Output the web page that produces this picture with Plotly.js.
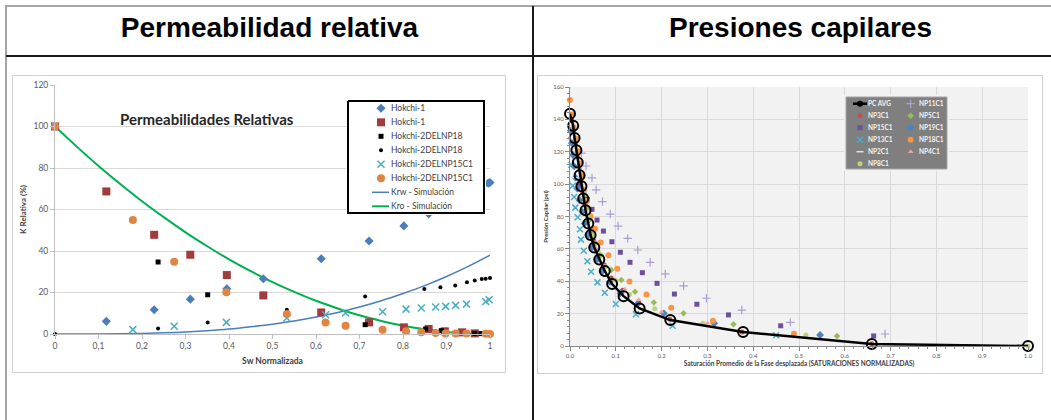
<!DOCTYPE html>
<html><head><meta charset="utf-8">
<script src="https://cdn.plot.ly/plotly-3.0.1.min.js"></script>
<style>
body{margin:0;background:#fff;width:1051px;height:420px;overflow:hidden;position:relative;font-family:"Liberation Sans",Arial,sans-serif}
.ln{position:absolute}
.hdr{position:absolute;top:10px;height:36px;line-height:36px;text-align:center;font-weight:bold;font-size:28px;color:#000;white-space:nowrap}
.box{position:absolute;border:1px solid #d0d0d0;pointer-events:none;box-sizing:border-box}
#c1{position:absolute;left:12px;top:75px;width:494px;height:298px}
#c2{position:absolute;left:537px;top:75px;width:506px;height:299px}
</style></head><body>
<div class="ln" style="left:5px;top:5px;width:1046px;height:2px;background:#a6a6a6"></div>
<div class="ln" style="left:5px;top:5px;width:2px;height:415px;background:#a6a6a6"></div>
<div class="ln" style="left:6px;top:55px;width:1045px;height:2px;background:#1a1a1a"></div>
<div class="ln" style="left:532px;top:6px;width:2px;height:414px;background:#1a1a1a"></div>
<div class="hdr" style="left:7px;width:525px">Permeabilidad relativa</div>
<div class="hdr" style="left:534px;width:533px">Presiones capilares</div>
<div id="c1"></div><div id="c2"></div>
<div class="box" style="left:12px;top:75px;width:494px;height:298px"></div>
<div class="box" style="left:537px;top:75px;width:506px;height:299px"></div>
<script>
// ================= DATA: Permeabilidades Relativas =================
const hk1DiamSw = [0.118, 0.228, 0.311, 0.395, 0.479, 0.612, 0.722, 0.802, 0.859, 0.985, 0.996, 1.0];
const hk1DiamKr = [6.1, 11.7, 16.8, 21.8, 26.6, 36.3, 44.8, 52.1, 57.9, 71.9, 72.7, 73.0];
const hk1SqSw = [0, 0.118, 0.228, 0.311, 0.395, 0.479, 0.612, 0.722, 0.802, 0.859, 0.896, 0.936, 0.965];
const hk1SqKr = [100, 68.7, 47.8, 38.2, 28.4, 18.6, 10.4, 5.6, 3.2, 2.4, 1.3, 0.8, 0.3];
const np18SqSw = [0.237, 0.351, 0.713, 0.852, 0.888, 0.965, 0.979];
const np18SqKr = [34.7, 18.9, 4.5, 2.4, 1.6, 0.3, 0.2];
const np18DotSw = [0, 0.237, 0.351, 0.533, 0.713, 0.849, 0.886, 0.920, 0.947, 0.965, 0.981, 0.990, 1.0];
const np18DotKr = [0, 2.7, 5.6, 11.7, 18.1, 21.7, 22.5, 23.4, 24.9, 25.8, 26.5, 26.6, 27.0];
const np15XSw = [0.179, 0.274, 0.394, 0.533, 0.622, 0.668, 0.753, 0.807, 0.842, 0.875, 0.898, 0.921, 0.946, 0.990, 0.998];
const np15XKr = [2.1, 3.7, 5.6, 7.7, 9.3, 10.1, 10.7, 12.0, 12.5, 13.0, 13.3, 13.8, 14.4, 15.7, 16.5];
const np15CirSw = [0, 0.179, 0.274, 0.394, 0.533, 0.622, 0.668, 0.753, 0.807, 0.842, 0.875, 0.898, 0.921, 0.946, 0.990, 1.0];
const np15CirKr = [100, 54.9, 34.8, 20.1, 9.6, 5.6, 4.0, 2.1, 1.3, 0.8, 0.5, 0.3, 0.2, 0.2, 0.1, 0];
const simSw = [0, 0.05, 0.1, 0.15, 0.2, 0.25, 0.3, 0.35, 0.4, 0.45, 0.5, 0.55, 0.6, 0.65, 0.7, 0.75, 0.8, 0.85, 0.9, 0.95, 1.0];
const krwSim = [0, 0.005, 0.04, 0.13, 0.3, 0.6, 1.0, 1.6, 2.4, 3.5, 4.75, 6.3, 8.2, 10.4, 13.0, 16.0, 19.5, 23.3, 27.7, 32.6, 38.0];
const kroSim = [100, 90.3, 81, 72.3, 64, 56.3, 49, 42.3, 36, 30.3, 25, 20.3, 16, 12.3, 9, 6.3, 4, 2.3, 1, 0.3, 0];
const leftNames = ['Hokchi-1', 'Hokchi-1', 'Hokchi-2DELNP18', 'Hokchi-2DELNP18', 'Hokchi-2DELNP15C1', 'Hokchi-2DELNP15C1', 'Krw - Simulación', 'Kro - Simulación'];
const xTicksLeft = [0, 0.1, 0.2, 0.3, 0.4, 0.5, 0.6, 0.7, 0.8, 0.9, 1];
const yTicksLeft = [0, 20, 40, 60, 80, 100, 120];

// ================= DATA: Presiones capilares =================
const avgS = [0.000, 0.007, 0.010, 0.014, 0.017, 0.021, 0.025, 0.029, 0.034, 0.040, 0.045, 0.053, 0.064, 0.076, 0.092, 0.117, 0.152, 0.219, 0.378, 0.659, 1.000];
const avgP = [143.5, 136, 128.5, 121, 113.3, 105.5, 98.7, 91.1, 83.9, 75.7, 68.5, 60.9, 53.5, 46.3, 38.3, 30.8, 23.2, 16.0, 8.6, 1.2, 0.0];
const np11S = [0.025, 0.035, 0.048, 0.057, 0.071, 0.088, 0.105, 0.126, 0.148, 0.175, 0.208, 0.248, 0.298, 0.375, 0.481, 0.688];
const np11P = [119.2, 111.2, 103.8, 96.5, 89.2, 81.5, 74.1, 66.5, 59.3, 51.7, 44.5, 37.1, 29.5, 22.2, 14.6, 7.4];
const np3S = [0.003, 0.008, 0.012, 0.016, 0.020, 0.024, 0.028, 0.033, 0.039, 0.045, 0.052, 0.062, 0.075, 0.090, 0.115, 0.150, 0.218, 0.376, 0.659];
const np3P = [140, 133, 125, 117, 110, 102, 95, 87.5, 80, 72, 65, 57, 50, 42, 34.5, 27, 16.5, 8.6, 1.4];
const np5S = [0.023, 0.031, 0.037, 0.042, 0.049, 0.056, 0.067, 0.090, 0.112, 0.142, 0.183, 0.248, 0.357, 0.583];
const np5P = [99.3, 92.1, 85, 77.7, 70.5, 63.3, 56.1, 46.9, 40.7, 33.5, 26.9, 20.2, 13.4, 6.2];
const np15S = [0.020, 0.030, 0.038, 0.048, 0.059, 0.073, 0.0915, 0.110, 0.131, 0.158, 0.190, 0.228, 0.277, 0.346, 0.460, 0.663];
const np15P = [100, 95, 90.5, 84.4, 77.8, 71, 64.4, 57.9, 51.7, 45.3, 38.7, 32.1, 25.8, 19.2, 12.5, 6.2];
const np19S = [0.0015, 0.004, 0.0066, 0.009, 0.012, 0.016, 0.021, 0.027, 0.032, 0.040, 0.048, 0.059, 0.071, 0.087, 0.110, 0.147, 0.205, 0.315, 0.546];
const np19P = [133, 125.4, 118, 111, 104, 97.3, 90, 82.9, 75.7, 68.5, 60.9, 53.5, 46.3, 39.7, 32.5, 25.9, 20.2, 14, 6.8];
const np13S = [0.003, 0.006, 0.009, 0.0116, 0.0167, 0.0218, 0.024, 0.030, 0.038, 0.046, 0.060, 0.076, 0.100, 0.144, 0.224, 0.450];
const np13P = [112, 99, 92, 85.5, 79.5, 72.1, 65.7, 58.9, 52.3, 45.9, 39.3, 32.9, 26, 19.6, 12.5, 6.6];
const np18S = [0.000, 0.004, 0.008, 0.013, 0.017, 0.022, 0.026, 0.030, 0.037, 0.045, 0.055, 0.067, 0.084, 0.103, 0.130, 0.167, 0.221, 0.312, 0.489];
const np18P = [152, 143, 135, 128, 120.5, 112.7, 105.5, 96.5, 89.5, 80.2, 72.4, 64, 56, 47.7, 39.9, 31.8, 23.7, 15.6, 7.6];
const np2S = [0.002, 0.006, 0.012];
const np2P = [138, 122, 104];
const np4S = [0.035, 0.045, 0.058, 0.072, 0.095, 0.120, 0.150, 0.200, 0.300];
const np4P = [84, 72, 60, 50, 41, 35, 28.5, 21, 14];
const np8S = [0.020, 0.030, 0.040, 0.050, 0.062, 0.078, 0.100, 0.130, 0.185, 0.290, 0.515, 1.000];
const np8P = [110, 94, 80, 68, 58, 49, 40.5, 32, 23, 14, 6.8, 0];
const rightNames = ['PC AVG', 'NP11C1', 'NP3C1', 'NP5C1', 'NP15C1', 'NP19C1', 'NP13C1', 'NP18C1', 'NP2C1', 'NP4C1', 'NP8C1'];
const xTicksRight = [0, 0.1, 0.2, 0.3, 0.4, 0.5, 0.6, 0.7, 0.8, 0.9, 1.0];
const yTicksRight = [0, 20, 40, 60, 80, 100, 120, 140, 160];

// ================= STYLES / LAYOUT =================
const FONT = 'Lato, "Open Sans", sans-serif';
const leftStyles = [
  {mode:'markers', marker:{symbol:'diamond', size:7, color:'#4a7ebb'}},
  {mode:'markers', marker:{symbol:'square', size:8, color:'#a23b3b'}},
  {mode:'markers', marker:{symbol:'square', size:5, color:'#000000'}},
  {mode:'markers', marker:{symbol:'circle', size:4, color:'#000000'}},
  {mode:'markers', marker:{symbol:'x-thin', size:7, color:'#4bacc6', line:{color:'#4bacc6', width:1.5}}},
  {mode:'markers', marker:{symbol:'circle', size:8, color:'#e0843f'}},
  {mode:'lines', line:{color:'#4a7ebb', width:1.5, shape:'spline'}},
  {mode:'lines', line:{color:'#00b050', width:2, shape:'spline'}}
];
const leftXY = [[hk1DiamSw,hk1DiamKr],[hk1SqSw,hk1SqKr],[np18SqSw,np18SqKr],[np18DotSw,np18DotKr],[np15XSw,np15XKr],[np15CirSw,np15CirKr],[simSw,krwSim],[simSw,kroSim]];

const rightStyles = [
  {mode:'lines+markers', line:{color:'#000', width:2.5}, marker:{symbol:'circle', size:10, color:'rgba(0,0,0,0)', line:{color:'#000', width:2}}},
  {mode:'markers', marker:{symbol:'cross-thin', size:6, color:'#a99fd0', line:{color:'#a99fd0', width:1.2}}},
  {mode:'markers', marker:{symbol:'circle', size:5, color:'#c0504d'}},
  {mode:'markers', marker:{symbol:'diamond', size:5, color:'#9bbb59'}},
  {mode:'markers', marker:{symbol:'square', size:5, color:'#6f4f99'}},
  {mode:'markers', marker:{symbol:'diamond', size:6, color:'#4f81bd'}},
  {mode:'markers', marker:{symbol:'x-thin', size:6, color:'#4bacc6', line:{color:'#4bacc6', width:1.5}}},
  {mode:'markers', marker:{symbol:'circle', size:6, color:'#f79646'}},
  {mode:'markers', marker:{symbol:'line-ew', size:5, color:'#dbe5f1', line:{color:'#dbe5f1', width:1.5}}},
  {mode:'markers', marker:{symbol:'triangle-up', size:5, color:'#e6a5a4'}},
  {mode:'markers', marker:{symbol:'circle', size:5, color:'#bfd078'}}
];
const rightXY = [[avgS,avgP],[np11S,np11P],[np3S,np3P],[np5S,np5P],[np15S,np15P],[np19S,np19P],[np13S,np13P],[np18S,np18P],[np2S,np2P],[np4S,np4P],[np8S,np8P]];

function aux(p, b){
  const pad = 2;
  return {
    x:{domain:[(b.l-pad-p.l)/p.w,(b.l+b.w+pad-p.l)/p.w], range:[-pad,b.w+pad], visible:false, fixedrange:true, anchor:'y2'},
    y:{domain:[(p.t+p.h-(b.t+b.h+pad))/p.h,(p.t+p.h-(b.t-pad))/p.h], range:[b.h+pad,-pad], visible:false, fixedrange:true, anchor:'x2'}
  };
}
function legendTraces(styles, names, box, pos, fill, border, bw){
  const tr = [{x:[0,box.w,box.w,0,0], y:[0,0,box.h,box.h,0], xaxis:'x2', yaxis:'y2', mode:'lines', fill:'toself', fillcolor:fill, line:{color:border, width:bw}, hoverinfo:'skip'}];
  const ann = [];
  styles.forEach((s,i)=>{
    const p = pos(i);
    const t = {xaxis:'x2', yaxis:'y2', hoverinfo:'skip', mode:s.mode, cliponaxis:false};
    if (s.mode.indexOf('lines')>=0){ t.x=[p.lx0,p.lx1]; t.y=[p.y,p.y]; t.line=Object.assign({}, s.line, {shape:'linear'}); }
    else { t.x=[p.sx]; t.y=[p.y]; }
    if (s.marker){ t.marker = Object.assign({}, s.marker); if (s.mode.indexOf('lines')>=0){ t.x=[p.sx]; t.y=[p.y]; tr.push({x:[p.lx0,p.lx1], y:[p.y,p.y], xaxis:'x2', yaxis:'y2', mode:'lines', line:s.line, hoverinfo:'skip'}); t.mode='markers'; t.marker={symbol:'circle', size:6, color:'#000'}; } }
    tr.push(t);
    ann.push({xref:'x2', yref:'y2', x:p.tx, y:p.y, text:names[i], xanchor:'left', yanchor:'middle', showarrow:false, font:p.font});
  });
  return {tr, ann};
}

// ---------- Left chart ----------
const PL = {l:55, t:85, w:435, h:249};
const boxL = {l:348, t:101, w:136, h:112};
const axL = aux(PL, boxL);
const legL = legendTraces(leftStyles, leftNames, boxL, i=>({sx:33, lx0:24, lx1:41, tx:41, y:7.3+14*i, font:{family:FONT, size:8.5, color:'#404040'}}), '#ffffff', '#000000', 2);
const lineFirst = [6,7,0,1,2,3,4,5];
const dataL = lineFirst.map(i=>Object.assign({x:leftXY[i][0], y:leftXY[i][1], name:leftNames[i], cliponaxis:false, hoverinfo:'x+y'}, leftStyles[i]));
const layoutL = {
  width:494, height:298, margin:{l:43, r:16, t:10, b:39},
  paper_bgcolor:'rgba(0,0,0,0)', plot_bgcolor:'#ffffff', showlegend:false, separators:', ',
  font:{family:FONT, color:'#595959'},
  xaxis:{range:[0,1], tickvals:xTicksLeft, showgrid:false, zeroline:false, showline:true, linecolor:'#bfbfbf', ticks:'outside', ticklen:4, tickcolor:'#bfbfbf', tickfont:{size:8.5, color:'#595959', family:FONT},
         title:{text:'<b>Sw Normalizada</b>', font:{size:8.5, color:'#404040', family:FONT}, standoff:7}},
  yaxis:{range:[0,120], tickvals:yTicksLeft, showgrid:true, gridcolor:'#d9d9d9', zeroline:false, showline:true, linecolor:'#bfbfbf', ticks:'outside', ticklen:4, tickcolor:'#bfbfbf', tickfont:{size:8.5, color:'#595959', family:FONT},
         title:{text:'<b>K Relativa (%)</b>', font:{size:8, color:'#404040', family:FONT}, standoff:5}},
  xaxis2:axL.x, yaxis2:axL.y,
  annotations:[{xref:'paper', yref:'paper', x:(207-PL.l)/PL.w, y:(PL.t+PL.h-108)/PL.h, text:'<b>Permeabilidades Relativas</b>', showarrow:false, font:{family:FONT, size:15, color:'#262626'}}].concat(legL.ann)
};
Plotly.newPlot('c1', dataL.concat(legL.tr), layoutL, {displayModeBar:false, staticPlot:true});

// ---------- Right chart ----------
const PR = {l:570, t:87, w:458, h:259};
const boxR = {l:846, t:97, w:101, h:72};
const axR = aux(PR, boxR);
const legR = legendTraces(rightStyles, rightNames, boxR, i=>{const c=i%2, r=Math.floor(i/2); return {sx:[14,64.7][c], lx0:7, lx1:21, tx:[20,70.5][c], y:6.7+12*r, font:{family:FONT, size:6.5, color:'#f2f2f2'}};}, '#7f7f7f', '#a6a6a6', 1);
const orderR = [1,2,3,4,5,6,7,8,9,10,0];
const dataR = orderR.map(i=>Object.assign({x:rightXY[i][0], y:rightXY[i][1], name:rightNames[i], cliponaxis:false, hoverinfo:'x+y'}, rightStyles[i]));
legR.ann.forEach(a=>{a.text='<b>'+a.text+'</b>';});
const layoutR = {
  width:506, height:299, margin:{l:33, r:15, t:12, b:28},
  paper_bgcolor:'rgba(0,0,0,0)', plot_bgcolor:'#f2f2f2', showlegend:false,
  font:{family:FONT, color:'#595959'},
  xaxis:{range:[0,1], tickvals:xTicksRight, tickformat:'.1f', showgrid:true, gridcolor:'#d9d9d9', zeroline:false, showline:true, linecolor:'#868686', ticks:'outside', ticklen:4, tickcolor:'#868686', tickfont:{size:6, color:'#595959', family:FONT},
         minor:{dtick:0.02, ticks:'outside', ticklen:2, tickcolor:'#868686', showgrid:false},
         title:{text:'<b>Saturación Promedio de la Fase desplazada (SATURACIONES NORMALIZADAS)</b>', font:{size:6.5, color:'#404040', family:FONT}, standoff:3}},
  yaxis:{range:[0,160], tickvals:yTicksRight, showgrid:true, gridcolor:'#d9d9d9', zeroline:false, showline:true, linecolor:'#868686', ticks:'outside', ticklen:4, tickcolor:'#868686', tickfont:{size:6, color:'#595959', family:FONT},
         minor:{dtick:4, ticks:'outside', ticklen:2, tickcolor:'#868686', showgrid:false},
         title:{text:'<b>Presión Capilar (psi)</b>', font:{size:6, color:'#404040', family:FONT}, standoff:4}},
  xaxis2:axR.x, yaxis2:axR.y,
  annotations:legR.ann
};
Plotly.newPlot('c2', dataR.concat(legR.tr), layoutR, {displayModeBar:false, staticPlot:true});
</script>
</body></html>
